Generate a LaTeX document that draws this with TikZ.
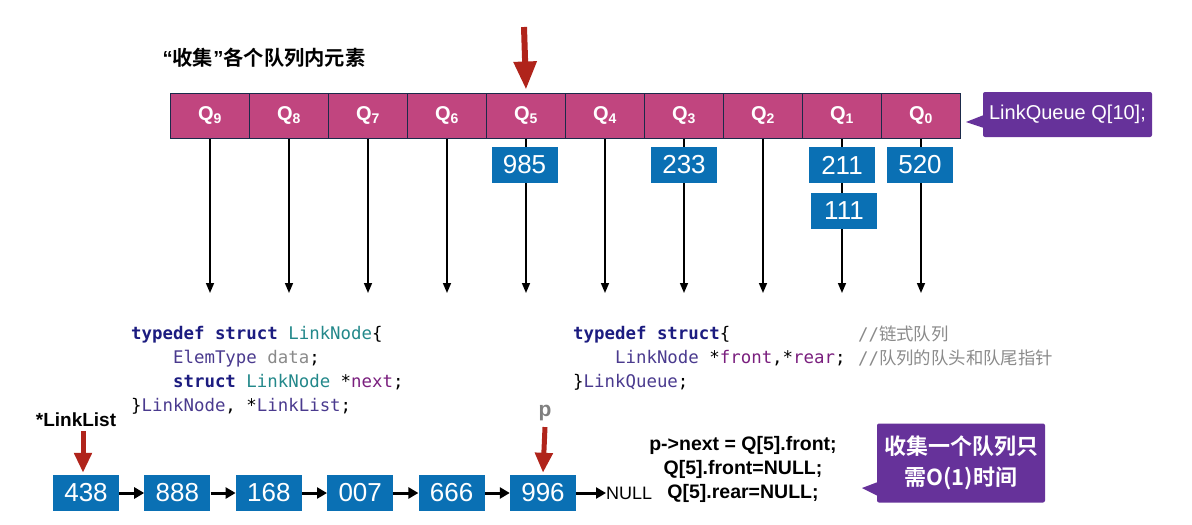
\documentclass[tikz,border=0pt]{standalone}
\usepackage{fontspec}
\setmainfont{Liberation Sans}
\setmonofont{DejaVu Sans Mono}
\newfontfamily\cjk{Noto Sans CJK SC}
\newfontfamily\cjkb{Noto Sans CJK SC Bold}
\usetikzlibrary{arrows.meta,positioning}

\definecolor{qmag}{HTML}{C1457F}
\definecolor{qline}{HTML}{1B2A4A}
\definecolor{boxblue}{HTML}{0A70B4}
\definecolor{cpurple}{HTML}{66329A}
\definecolor{darkred}{HTML}{B0241B}
\definecolor{kwnavy}{HTML}{1C1C80}
\definecolor{tyteal}{HTML}{23888A}
\definecolor{nmpurple}{HTML}{4A3A8E}
\definecolor{fdpurple}{HTML}{7A1F7E}
\definecolor{cmtgray}{HTML}{8A8A8A}

\newcommand\ckw[1]{{\color{kwnavy}\bfseries #1}}
\newcommand\ctype[1]{{\color{tyteal}#1}}
\newcommand\cname[1]{{\color{nmpurple}#1}}
\newcommand\cfield[1]{{\color{fdpurple}#1}}
\newcommand\cvar[1]{{\color{cmtgray}#1}}

\tikzset{
  qcell/.style={draw=qline, line width=1pt, fill=qmag, minimum width=79pt,
    minimum height=45pt, inner sep=0pt, text=white,
    font=\bfseries\fontsize{20}{20}\selectfont},
  valbox/.style={fill=boxblue, minimum width=66pt, minimum height=36pt,
    inner sep=0pt, text=white, font=\fontsize{26}{26}\selectfont},
  down/.style={-{Triangle[width=8pt,length=10pt]}, line width=1.6pt},
  link/.style={-{Triangle[width=11pt,length=10pt]}, line width=3pt},
  redptr/.style={darkred, -{Triangle[width=17pt,length=20pt]}, line width=5pt},
  callout/.style={fill=cpurple, rounded corners=2pt, text=white, inner sep=0pt},
  code/.style={anchor=north west, inner sep=0pt, align=left,
    font=\ttfamily\fontsize{17.4}{24}\selectfont}
}

\begin{document}
\begin{tikzpicture}[x=1pt,y=1pt]
  \useasboundingbox (0,0) rectangle (1192,-525);

  % queue array
  \node[anchor=west, font=\cjkb\fontsize{20.3}{20.3}\selectfont] (title) at (159,-58)
    {{\bfseries\rmfamily “}收集{\bfseries\rmfamily ”}各个队列内元素};
  \foreach \i in {0,...,9}
    \node[qcell] (q\i) at ({921-79*\i},-115.5) {Q\textsubscript{\i}};
  \foreach \i in {0,...,9} {
    \coordinate (e\i) at ({921-79*\i},-293);
    \draw[down] (q\i.south) -- (e\i);
  }
  \coordinate (top) at (524,-27);
  \draw[redptr, -{Triangle[width=22pt,length=28pt]}, line width=6pt]
    (top) -- ([yshift=3pt]q5.north);

  % elements still in the queues
  \node[valbox] (v985) at (524.5,-165) {985};
  \node[valbox] (v233) at (684,-165) {233};
  \node[valbox] (v211) at (842,-165) {211};
  \node[valbox] (v111) at (844,-211) {111};
  \node[valbox] (v520) at (920,-165) {520};

  % LinkQueue callout
  \node[callout, minimum width=169pt, minimum height=45pt,
    font=\fontsize{20}{20}\selectfont] (lq) at (1067.5,-114.5) {LinkQueue Q[10];};
  \coordinate (lqtip) at (966,-122);
  \fill[cpurple] (lqtip) -- ([yshift=7pt,xshift=1pt]lq.west |- lqtip)
    -- ([yshift=-6pt,xshift=1pt]lq.west |- lqtip) -- cycle;

  % type definitions
  \node[code] (def1) at (131,-326) {%
    \ckw{typedef struct} \ctype{LinkNode}\{\\
    \phantom{0000}\cname{ElemType} \cvar{data};\\
    \phantom{0000}\ckw{struct} \ctype{LinkNode} *\cfield{next};\\
    \}\cname{LinkNode}, *\cname{LinkList};};
  \node[code] (def2) at (573,-326) {%
    \ckw{typedef struct}\{\\
    \phantom{0000}\cname{LinkNode} *\cfield{front},*\cfield{rear};\\
    \}\cname{LinkQueue};};
  \node[code, text=cmtgray] (cmt) at (858,-326) {%
    //{\cjk 链式队列}\\
    //{\cjk 队列的队头和队尾指针}};

  % collected list
  \node[valbox] (n1) at (86,-493) {438};
  \node[valbox, right=25pt of n1] (n2) {888};
  \node[valbox, right=25pt of n2] (n3) {168};
  \node[valbox, right=25pt of n3] (n4) {007};
  \node[valbox, right=25pt of n4] (n5) {666};
  \node[valbox, right=25pt of n5] (n6) {996};
  \node[anchor=west, inner sep=0pt, font=\fontsize{18}{18}\selectfont]
    (null) at (606,-493) {NULL};
  \foreach \a/\b in {n1/n2,n2/n3,n3/n4,n4/n5,n5/n6,n6/null}
    \draw[link] (\a) -- (\b);

  \node[font=\bfseries\fontsize{19}{19}\selectfont, inner sep=0pt] (head) at (76,-420) {*LinkList};
  \draw[redptr] ([xshift=7pt,yshift=-4pt]head.south) -- ([xshift=-3pt,yshift=2pt]n1.north);
  \node[font=\bfseries\fontsize{21}{21}\selectfont, text=gray, inner sep=0pt] (p) at (545,-413) {p};
  \draw[redptr] ([yshift=-6pt]p.south) -- ([yshift=2pt]n6.north);

  % collecting steps
  \node[align=center, inner sep=0pt, font=\bfseries\fontsize{19.5}{24}\selectfont]
    (steps) at (743,-469) {p->next = Q[5].front;\\Q[5].front=NULL;\\Q[5].rear=NULL;};

  \node[callout, minimum width=168pt, minimum height=79pt, align=center,
    font=\cjkb\fontsize{22}{31}\selectfont] (cost) at (961,-463)
    {收集一个队列只\\需O(1)时间};
  \coordinate (costtip) at (862,-488);
  \fill[cpurple] (costtip) -- ([yshift=6pt,xshift=1pt]cost.west |- costtip)
    -- ([yshift=-8pt,xshift=1pt]cost.west |- costtip) -- cycle;
\end{tikzpicture}
\end{document}
